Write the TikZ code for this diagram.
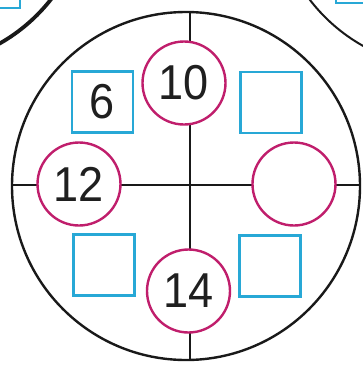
\documentclass[tikz,border=0pt]{standalone}
\usepackage{fontspec}
\setmainfont{Liberation Sans}[FakeStretch=0.92]
\definecolor{pinkc}{RGB}{192,30,108}
\definecolor{cyanc}{RGB}{40,168,214}
\tikzset{
  ring/.style={circle,draw=pinkc,line width=2.4pt,fill=white,minimum size=83pt,inner sep=0pt,font=\fontsize{49}{49}\selectfont,text=black!88},
  boxc/.style={rectangle,draw=cyanc,line width=2.6pt,minimum size=61pt,inner sep=0pt,font=\fontsize{49}{49}\selectfont,text=black!88},
  rim/.style={draw=black!90,line width=2.4pt},
  cross/.style={draw=black!90,line width=2.4pt}
}
\begin{document}
\begin{tikzpicture}[x=1pt,y=-1pt]
\useasboundingbox (0,0) rectangle (363,365);
\clip (0,0) rectangle (363,365);
\fill[white] (0,0) rectangle (363,365);
% neighbouring circles (cut off)
\draw[black!90,line width=3.8pt] (-86,-108) circle (174);
\draw[black!90,line width=2pt] (448,-106) circle (174);
\draw[cyanc,line width=2.6pt] (-50,-50) rectangle (20,8);
\draw[cyanc,line width=2.6pt] (336,-50) rectangle (420,3);
% main circle
\node[circle,rim,minimum size=348pt,inner sep=0pt] (big) at (186,186) {};
\coordinate (T) at (190,12);
\coordinate (B) at (190,360);
\coordinate (L) at (12,185);
\coordinate (R) at (360,185);
\draw[cross] (T) -- (B);
\draw[cross] (L) -- (R);
% number circles
\node[ring] (n10) at (184,83) {10};
\node[ring] (n12) at (79,184) {12};
\node[ring] (nr) at (294,184) {};
\node[ring] (n14) at (188.5,291) {14};
% boxes
\node[boxc] (b6) at (102.5,102) {6};
\node[boxc] (btr) at (271,102.5) {};
\node[boxc] (bbl) at (104,265) {};
\node[boxc] (bbr) at (270,266) {};
\end{tikzpicture}
\end{document}
